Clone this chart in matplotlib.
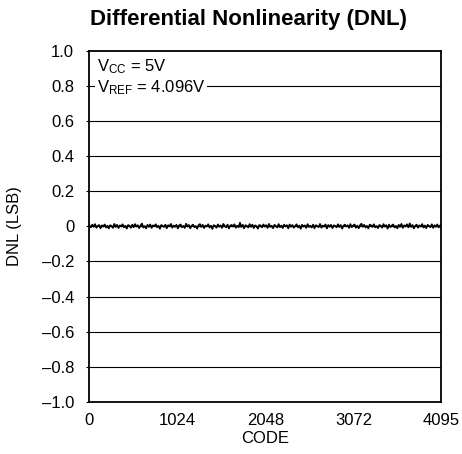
import numpy as np
import matplotlib
matplotlib.use("Agg")
import matplotlib.pyplot as plt

plt.rcParams['font.family'] = ['Liberation Sans Narrow', 'Liberation Sans', 'DejaVu Sans']

# DNL trace (LSB), one value every 16 codes
dnl = [
    0.004, -0.006, 0.009, -0.003, 0.012, -0.008, 0.002, 0.007, -0.011, 0.005, -0.002, 0.010, -0.007, 0.003, -0.012, 0.006,
    0.001, -0.009, 0.013, -0.004, 0.008, -0.010, 0.005, -0.001, 0.011, -0.006, 0.003, -0.013, 0.007, 0.002, -0.008, 0.009,
    -0.005, 0.012, -0.002, 0.006, -0.010, 0.004, 0.015, -0.007, 0.001, -0.012, 0.008, -0.003, 0.010, -0.009, 0.005, 0.000,
    0.011, -0.006, 0.003, -0.014, 0.007, 0.002, -0.004, 0.009, -0.011, 0.006, -0.001, 0.013, -0.008, 0.004, -0.003, 0.008,
    -0.012, 0.005, 0.010, -0.006, 0.002, -0.009, 0.014, -0.002, 0.007, -0.011, 0.003, 0.009, -0.005, 0.001, -0.013, 0.006,
    0.012, -0.004, 0.008, -0.010, 0.004, -0.001, 0.011, -0.007, 0.003, -0.015, 0.006, 0.002, -0.008, 0.010, -0.003, 0.005,
    -0.009, 0.013, 0.001, -0.006, 0.009, -0.012, 0.004, 0.007, -0.002, 0.011, -0.008, 0.003, -0.005, 0.020, -0.004, 0.008,
    -0.011, 0.006, 0.002, -0.007, 0.012, -0.003, 0.009, -0.010, 0.005, 0.000, -0.013, 0.007, 0.004, -0.006, 0.010, -0.002,
    0.006, -0.009, 0.013, -0.004, 0.003, -0.011, 0.008, 0.001, -0.007, 0.012, -0.005, 0.004, -0.010, 0.009, -0.001, 0.006,
    -0.012, 0.010, -0.003, 0.007, -0.008, 0.002, 0.011, -0.006, 0.004, -0.014, 0.008, -0.002, 0.005, -0.009, 0.012, -0.004,
    0.003, -0.007, 0.009, -0.011, 0.006, 0.001, -0.005, 0.013, -0.008, 0.004, -0.002, 0.010, -0.012, 0.007, -0.003, 0.008,
    -0.010, 0.005, 0.002, -0.006, 0.011, -0.004, 0.007, -0.013, 0.003, 0.009, -0.001, 0.006, -0.009, 0.012, -0.005, 0.004,
    0.010, -0.008, 0.003, -0.011, 0.006, 0.014, -0.003, 0.008, -0.007, 0.002, -0.012, 0.009, 0.005, -0.004, 0.011, -0.006,
    0.001, -0.010, 0.007, 0.003, -0.008, 0.012, -0.002, 0.006, -0.013, 0.009, -0.005, 0.004, 0.010, -0.007, 0.002, -0.011,
    0.008, -0.003, 0.013, -0.009, 0.005, -0.001, 0.011, -0.006, 0.016, -0.004, 0.007, -0.012, 0.003, 0.009, -0.008, 0.005,
    -0.002, 0.012, -0.007, 0.004, -0.010, 0.008, 0.001, -0.005, 0.011, -0.009, 0.006, -0.003, 0.010, -0.006, 0.004, 0.007,
]
codes = np.linspace(0, 4095, len(dnl))

x_ticks = [0, 1024, 2048, 3072, 4095]
y_ticks = [-1.0, -0.8, -0.6, -0.4, -0.2, 0, 0.2, 0.4, 0.6, 0.8, 1.0]
y_labels = ['\u20131.0', '\u20130.8', '\u20130.6', '\u20130.4', '\u20130.2', '0',
            '0.2', '0.4', '0.6', '0.8', '1.0']

fig = plt.figure(figsize=(4.62, 4.54), dpi=100)
ax = fig.add_axes([0.1937, 0.1145, 0.7619, 0.7742])

for y in y_ticks[1:-1]:
    ax.axhline(y, color='black', lw=0.8, zorder=1)

ax.plot(codes, dnl, color='black', lw=1.3, zorder=2)

ax.set_xlim(0, 4095)
ax.set_ylim(-1.0, 1.0)
ax.set_xticks(x_ticks)
ax.set_xticklabels([str(t) for t in x_ticks])
ax.set_yticks(y_ticks)
ax.set_yticklabels(y_labels)
ax.tick_params(axis='x', length=0, pad=8, labelsize=12)
ax.tick_params(axis='y', length=2, width=0.8, pad=9, labelsize=12)
for s in ax.spines.values():
    s.set_linewidth(1.3)

ax.set_xlabel('CODE', fontsize=12, labelpad=2)
ax.set_ylabel('DNL (LSB)', fontsize=12, labelpad=14)
fig.text(248 / 462, 1 - 20 / 454, 'Differential Nonlinearity (DNL)',
         fontsize=16, fontweight='bold', ha='center', va='center')

ax.text(0.02, 0.953, r'$\mathregular{V_{CC}}$ = 5V', transform=ax.transAxes,
        fontsize=12, va='center', ha='left', zorder=3)
ax.text(0.02, 0.893, r'$\mathregular{V_{REF}}$ = 4.096V', transform=ax.transAxes,
        fontsize=12, va='center', ha='left', zorder=3,
        bbox=dict(facecolor='white', edgecolor='none', pad=1.5))

fig.savefig('out.png', dpi=100)
